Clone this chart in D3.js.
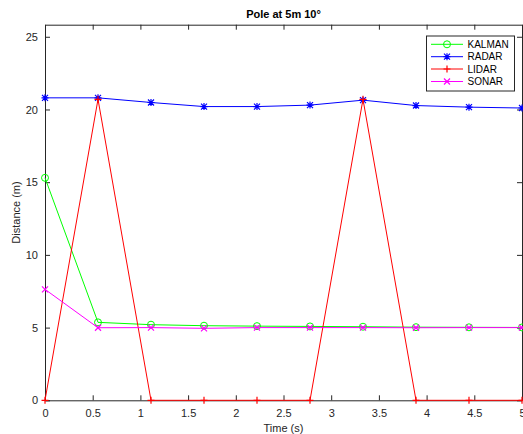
<!DOCTYPE html>
<html><head><meta charset="utf-8">
<script src="https://cdn.jsdelivr.net/npm/d3@7"></script>
<style>body{margin:0;background:#fff}svg{display:block}text{font-family:"Liberation Sans",Arial,sans-serif;fill:#262626}</style>
</head><body><svg id="c" width="523" height="434"></svg>
<script>
const times = [0, 0.5556, 1.1111, 1.6667, 2.2222, 2.7778, 3.3333, 3.8889, 4.4444, 5];
const kalman = [15.3, 5.36, 5.2, 5.13, 5.1, 5.08, 5.06, 5.03, 5.02, 5.01];
const radar = [20.8, 20.8, 20.48, 20.2, 20.2, 20.3, 20.64, 20.27, 20.16, 20.1];
const lidar = [0, 20.7, 0, 0, 0, 0, 20.7, 0, 0, 0];
const sonar = [7.63, 4.99, 5.0, 4.95, 5.0, 5.0, 5.0, 4.99, 5.0, 5.0];
const xTicks = [0, 0.5, 1, 1.5, 2, 2.5, 3, 3.5, 4, 4.5, 5];
const yTicks = [0, 5, 10, 15, 20, 25];
const seriesNames = ["KALMAN", "RADAR", "LIDAR", "SONAR"];
const seriesColors = ["#00ff00", "#0000ff", "#ff0000", "#ff00ff"];
const seriesMarkers = ["circle", "star", "plus", "x"];
const seriesData = [kalman, radar, lidar, sonar];

const svg = d3.select("#c");
const L = 45, R = 522, T = 24.7, B = 400.3;
const x = d3.scaleLinear().domain([0, 5]).range([L, R]);
const y = d3.scaleLinear().domain([0, 25.83]).range([B, T]);
const axc = "#262626";

// axes
const gx = svg.append("g").attr("transform", `translate(0,${B})`)
  .call(d3.axisBottom(x).tickValues(xTicks).tickSizeInner(-5).tickSizeOuter(0).tickPadding(8).tickFormat(d3.format("")));
const gxt = svg.append("g").attr("transform", `translate(0,${T})`)
  .call(d3.axisTop(x).tickValues(xTicks).tickSizeInner(-5).tickSizeOuter(0).tickFormat(""));
const gy = svg.append("g").attr("transform", `translate(${L},0)`)
  .call(d3.axisLeft(y).tickValues(yTicks).tickSizeInner(-5).tickSizeOuter(0).tickPadding(7));
const gyr = svg.append("g").attr("transform", `translate(${R},0)`)
  .call(d3.axisRight(y).tickValues(yTicks).tickSizeInner(-5).tickSizeOuter(0).tickFormat(""));
[gx, gxt, gy, gyr].forEach(g => {
  g.selectAll("path").attr("stroke", axc).attr("stroke-width", 1);
  g.selectAll("line").attr("stroke", axc);
  g.selectAll("text").attr("font-size", 11).style("fill", axc);
});
gx.selectAll("text").attr("dy", "0.75em");

svg.append("defs").append("clipPath").attr("id", "clip")
  .append("rect").attr("x", L).attr("y", T).attr("width", R - L + 4).attr("height", B - T + 4);

function marker(g, type, cx, cy, color) {
  const s = 3.5;
  if (type === "circle") {
    g.append("circle").attr("cx", cx).attr("cy", cy).attr("r", s).attr("fill", "none").attr("stroke", color).attr("stroke-width", 1);
  } else if (type === "plus") {
    g.append("path").attr("d", `M${cx - s},${cy}H${cx + s}M${cx},${cy - s}V${cy + s}`).attr("stroke", color).attr("stroke-width", 1.2);
  } else if (type === "x") {
    const k = 3;
    g.append("path").attr("d", `M${cx - k},${cy - k}L${cx + k},${cy + k}M${cx - k},${cy + k}L${cx + k},${cy - k}`).attr("stroke", color).attr("stroke-width", 1.2);
  } else if (type === "star") {
    const k = 3;
    g.append("path").attr("d", `M${cx - s},${cy}H${cx + s}M${cx},${cy - s}V${cy + s}M${cx - k},${cy - k}L${cx + k},${cy + k}M${cx - k},${cy + k}L${cx + k},${cy - k}`).attr("stroke", color).attr("stroke-width", 1.2);
  }
}

const plot = svg.append("g");
const line = d3.line().x((d, i) => x(times[i])).y(d => y(d));
seriesData.forEach((data, si) => {
  const g = plot.append("g");
  g.append("path").datum(data).attr("d", line).attr("fill", "none")
    .attr("stroke", seriesColors[si]).attr("stroke-width", 1);
  data.forEach((d, i) => marker(g, seriesMarkers[si], x(times[i]), y(d), seriesColors[si]));
});

// title & labels
svg.append("text").attr("x", (L + R) / 2).attr("y", 18).attr("text-anchor", "middle")
  .attr("font-size", 11).attr("font-weight", "bold").style("fill", "#000").text("Pole at 5m 10°");
svg.append("text").attr("x", (L + R) / 2).attr("y", 432).attr("text-anchor", "middle")
  .attr("font-size", 11).text("Time (s)");
svg.append("text").attr("transform", `translate(20,${(T + B) / 2}) rotate(-90)`).attr("text-anchor", "middle")
  .attr("font-size", 11).text("Distance (m)");

// legend
const lg = svg.append("g");
lg.append("rect").attr("x", 426.5).attr("y", 36).attr("width", 88).attr("height", 55)
  .attr("fill", "#fff").attr("stroke", axc).attr("stroke-width", 1);
const ly = [44.3, 56.7, 69, 81.5];
seriesNames.forEach((n, i) => {
  lg.append("line").attr("x1", 431).attr("x2", 463).attr("y1", ly[i]).attr("y2", ly[i])
    .attr("stroke", seriesColors[i]).attr("stroke-width", 1);
  marker(lg, seriesMarkers[i], 447, ly[i], seriesColors[i]);
  lg.append("text").attr("x", 467.5).attr("y", ly[i]).attr("dy", "0.35em").attr("font-size", 10).style("fill", "#000").text(n);
});
</script></body></html>
